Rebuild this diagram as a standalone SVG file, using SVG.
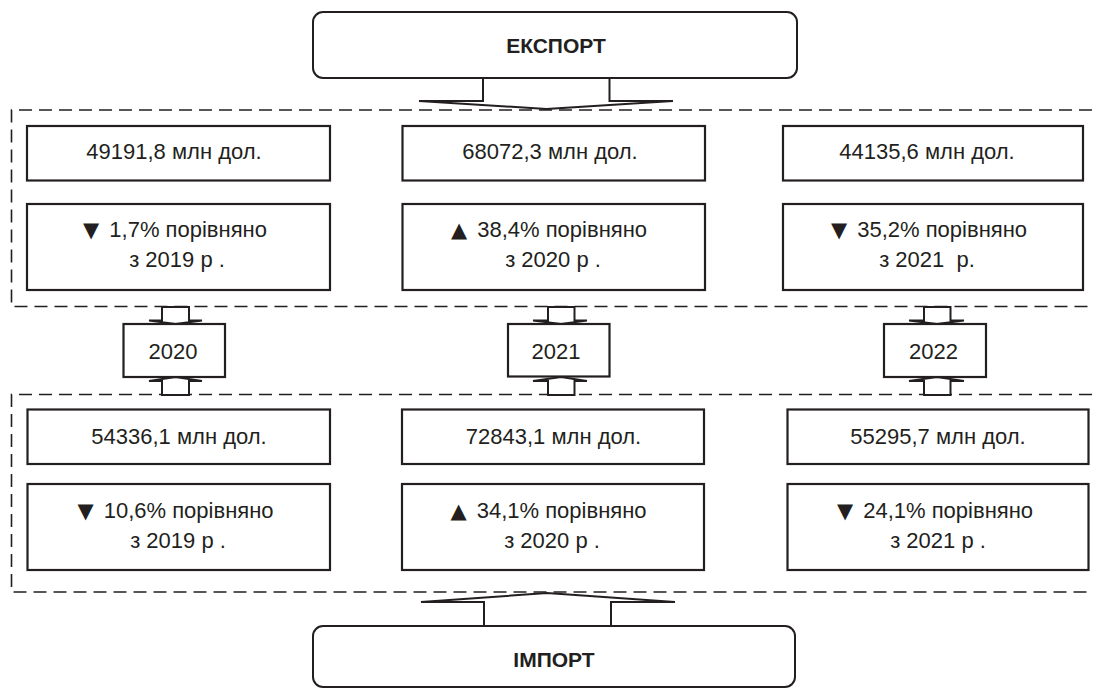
<svg xmlns="http://www.w3.org/2000/svg" width="1096" height="689" viewBox="0 0 1096 689">
<style>
.box{fill:#fff;stroke:#231f20;stroke-width:2.2}
.rbox{fill:#fff;stroke:#231f20;stroke-width:2}
.dash{fill:none;stroke:#231f20;stroke-width:1.6;stroke-dasharray:13 7}
.arr{fill:#fff;stroke:#231f20;stroke-width:2;stroke-linejoin:miter}
text{font-family:"Liberation Sans",Arial,sans-serif;font-size:22px;fill:#231f20;text-anchor:middle}
.hd{font-weight:bold;font-size:21px}
.tri{font-family:"DejaVu Sans",sans-serif;font-size:21px}
.pre{white-space:pre}
</style>
<rect width="1096" height="689" fill="#fff"/>
<g id="groups">
<path class="dash" d="M1092,110 H11.5 V306.5 H1092"/>
<path class="dash" d="M1092,394.5 H11.5 V592 H1092"/>
</g>
<g id="connectors">
<path class="arr" d="M483,78 V101 H419 L546.5,109 L673,101 H609.5 V78 Z"/>
<path class="arr" d="M484,626 V602 H421 L547,593 L675,602 H611 V626 Z"/>
<path class="arr" d="M162,307 V320.5 H149 L175.5,324 L202,320.5 H189 V307 Z"/>
<path class="arr" d="M162,395 V381 H149 L175.5,377 L202,381 H189 V395 Z"/>
<path class="arr" d="M548,307 V320.5 H533 L561,324 L587,320.5 H574.5 V307 Z"/>
<path class="arr" d="M548,395 V381 H533 L561,377 L587,381 H574.5 V395 Z"/>
<path class="arr" d="M924,307 V320.5 H909 L937,324 L964,320.5 H950.5 V307 Z"/>
<path class="arr" d="M924,395 V381 H909 L937,377 L964,381 H950.5 V395 Z"/>
</g>
<g id="export">
<rect class="rbox" x="313" y="12" width="484" height="66" rx="10"/>
<text class="hd" x="556" y="52.5">ЕКСПОРТ</text>
</g>
<g id="import">
<rect class="rbox" x="313" y="626" width="482" height="61" rx="10"/>
<text class="hd" x="554" y="666.5">ІМПОРТ</text>
</g>
<g id="exp-2020-value"><rect class="box" x="27" y="126" width="303" height="54.5"/><text x="174" y="159">49191,8 млн дол.</text></g>
<g id="exp-2020-change"><rect class="box" x="27" y="204" width="303" height="86"/><text x="175" y="237"><tspan class="tri">▼</tspan><tspan dx="4"> 1,7% порівняно</tspan></text><text x="177" y="267">з 2019 р .</text></g>
<g id="exp-2021-value"><rect class="box" x="402.5" y="126" width="302.5" height="54.5"/><text x="550" y="159">68072,3 млн дол.</text></g>
<g id="exp-2021-change"><rect class="box" x="402.5" y="204" width="302.5" height="86"/><text x="549" y="237"><tspan class="tri">▲</tspan><tspan dx="4"> 38,4% порівняно</tspan></text><text x="553" y="267">з 2020 р .</text></g>
<g id="exp-2022-value"><rect class="box" x="783" y="126" width="300" height="54.5"/><text x="927" y="159">44135,6 млн дол.</text></g>
<g id="exp-2022-change"><rect class="box" x="783" y="204" width="300" height="86"/><text x="929" y="237"><tspan class="tri">▼</tspan><tspan dx="4"> 35,2% порівняно</tspan></text><text class="pre" x="927" y="267">з 2021  р.</text></g>
<g id="y2020"><rect class="box" x="123.5" y="324" width="101.5" height="53"/><text x="173" y="358.5">2020</text></g>
<g id="y2021"><rect class="box" x="508" y="324" width="101.5" height="52.5"/><text x="556" y="358.5">2021</text></g>
<g id="y2022"><rect class="box" x="884" y="324" width="102" height="53"/><text x="933.5" y="358.5">2022</text></g>
<g id="imp-2020-value"><rect class="box" x="27.5" y="409.5" width="302.5" height="54.5"/><text x="179" y="443.5">54336,1 млн дол.</text></g>
<g id="imp-2020-change"><rect class="box" x="27.5" y="484" width="302.5" height="86"/><text x="175.5" y="518"><tspan class="tri">▼</tspan><tspan dx="4"> 10,6% порівняно</tspan></text><text x="178" y="548">з 2019 р .</text></g>
<g id="imp-2021-value"><rect class="box" x="402" y="409.5" width="302" height="54.5"/><text x="553.5" y="443.5">72843,1 млн дол.</text></g>
<g id="imp-2021-change"><rect class="box" x="402" y="484" width="302" height="86"/><text x="548.5" y="518"><tspan class="tri">▲</tspan><tspan dx="4"> 34,1% порівняно</tspan></text><text x="552" y="548">з 2020 р .</text></g>
<g id="imp-2022-value"><rect class="box" x="787.5" y="409.5" width="301" height="54.5"/><text x="938" y="443.5">55295,7 млн дол.</text></g>
<g id="imp-2022-change"><rect class="box" x="787.5" y="484" width="301" height="86"/><text x="935" y="518"><tspan class="tri">▼</tspan><tspan dx="4"> 24,1% порівняно</tspan></text><text x="938" y="548">з 2021 р .</text></g>
</svg>
